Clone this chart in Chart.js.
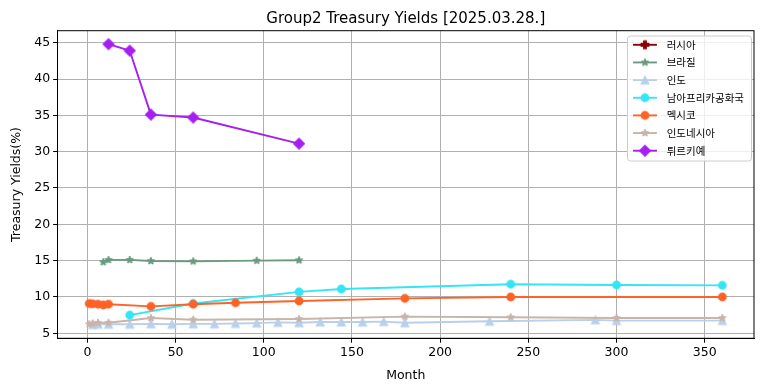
<!DOCTYPE html>
<html><head><meta charset="utf-8">
<script src="https://cdn.jsdelivr.net/npm/chart.js@4"></script>
<style>html,body{margin:0;padding:0;background:#fff;}canvas{display:block}</style>
</head><body>
<canvas id="c" width="764" height="391"></canvas>
<script>
// ---------- data ----------
const chartTitle = 'Group2 Treasury Yields [2025.03.28.]';
const xAxisTitle = 'Month';
const yAxisTitle = 'Treasury Yields(%)';
const seriesNames = ['러시아','브라질','인도','남아프리카공화국','멕시코','인도네시아','튀르키예'];

const russiaMonths = [];
const russiaYields = [];
const brazilMonths = [9,12,24,36,60,96,120];
const brazilYields = [14.8,15.1,15.1,14.95,14.9,15.0,15.05];
const indiaMonths = [3,6,12,24,36,48,60,72,84,96,108,120,132,144,156,168,180,228,288,300,360];
const indiaYields = [6.2,6.25,6.25,6.25,6.3,6.25,6.3,6.3,6.35,6.4,6.5,6.45,6.55,6.55,6.55,6.6,6.45,6.65,6.85,6.75,6.75];
const safricaMonths = [24,60,120,144,240,300,360];
const safricaYields = [7.5,9.1,10.7,11.1,11.75,11.65,11.6];
const mexicoMonths = [1,3,6,9,12,36,60,84,120,180,240,360];
const mexicoYields = [9.1,9.05,9.0,8.9,9.0,8.7,9.0,9.2,9.45,9.8,10.0,10.0];
const indonesiaMonths = [1,3,6,12,36,60,120,180,240,300,360];
const indonesiaYields = [6.25,6.35,6.45,6.45,7.1,6.87,6.96,7.3,7.2,7.1,7.1];
const turkeyMonths = [12,24,36,60,120];
const turkeyYields = [44.8,43.9,35.1,34.7,31.1];

const xTickValues = [0,50,100,150,200,250,300,350];
const yTickValues = [5,10,15,20,25,30,35,40,45];

// ---------- styles ----------
const seriesColors = ['#8b0000','#6a9a80','#b8d0ec','#33e5f5','#ff6226','#c8b4a8','#a61ff0'];
const seriesMarkers = ['P','*','^','o','o','*','D'];
const PX = 90.7/72;
const MS = 6*PX, MEW = 1*PX, LW = 1.5*PX;

function makeMarker(shape, color){
  const size = 20;
  const cv = document.createElement('canvas'); cv.width = size; cv.height = size;
  const g = cv.getContext('2d');
  g.translate(size/2, size/2);
  g.beginPath();
  const s = MS;
  let join = 'miter';
  if (shape === 'o') { g.arc(0,0,s/2,0,Math.PI*2); }
  else if (shape === '^') { g.moveTo(0,-s/2); g.lineTo(-s/2,s/2); g.lineTo(s/2,s/2); g.closePath(); }
  else if (shape === 'D') { const d = s*Math.SQRT1_2; g.moveTo(0,-d); g.lineTo(d,0); g.lineTo(0,d); g.lineTo(-d,0); g.closePath(); }
  else if (shape === '*') {
    const R = s/2, r = R*0.381966; join = 'bevel';
    for (let i=0;i<10;i++){ const a = -Math.PI/2 + i*Math.PI/5; const rr = (i%2)?r:R;
      const px = Math.cos(a)*rr, py = Math.sin(a)*rr; if(i===0) g.moveTo(px,py); else g.lineTo(px,py); }
    g.closePath();
  } else if (shape === 'P') {
    const u = s/6;
    const pts = [[-1,-3],[1,-3],[1,-1],[3,-1],[3,1],[1,1],[1,3],[-1,3],[-1,1],[-3,1],[-3,-1],[-1,-1]];
    pts.forEach((p,i)=>{ if(i===0) g.moveTo(p[0]*u,p[1]*u); else g.lineTo(p[0]*u,p[1]*u); });
    g.closePath();
  }
  g.fillStyle = color; g.fill();
  g.lineWidth = MEW; g.strokeStyle = color; g.lineJoin = join; g.stroke();
  return cv;
}

const seriesMonths = [russiaMonths,brazilMonths,indiaMonths,safricaMonths,mexicoMonths,indonesiaMonths,turkeyMonths];
const seriesYields = [russiaYields,brazilYields,indiaYields,safricaYields,mexicoYields,indonesiaYields,turkeyYields];
const markerImgs = seriesColors.map((c,i)=>makeMarker(seriesMarkers[i], c));

const datasets = seriesNames.map((name,i)=>({
  label: name,
  data: seriesMonths[i].map((m,j)=>({x:m, y:seriesYields[i][j]})),
  borderColor: seriesColors[i],
  backgroundColor: seriesColors[i],
  borderWidth: LW,
  borderJoinStyle: 'round',
  borderCapStyle: 'square',
  pointStyle: markerImgs[i],
  pointRadius: 4, pointHoverRadius: 4,
  fill: false, tension: 0, showLine: true,
  order: seriesNames.length - i
}));

const tickFont = {family:'"DejaVu Sans", sans-serif', size:12.5};

const decorPlugin = {
  id: 'decor',
  afterDatasetsDraw(chart){
    const ctx = chart.ctx, a = chart.chartArea;
    ctx.save();
    ctx.strokeStyle = '#000'; ctx.lineWidth = 1;
    ctx.strokeRect(a.left, a.top, a.right-a.left, a.bottom-a.top);
    ctx.fillStyle = '#000';
    ctx.font = '15px "DejaVu Sans", sans-serif';
    ctx.textAlign = 'center'; ctx.textBaseline = 'alphabetic';
    ctx.fillText(chartTitle, (a.left+a.right)/2, 23);
    const bx = 627.5, by = 36, bw = 124, bh = 125, r = 3;
    ctx.beginPath();
    ctx.moveTo(bx+r,by); ctx.lineTo(bx+bw-r,by); ctx.quadraticCurveTo(bx+bw,by,bx+bw,by+r);
    ctx.lineTo(bx+bw,by+bh-r); ctx.quadraticCurveTo(bx+bw,by+bh,bx+bw-r,by+bh);
    ctx.lineTo(bx+r,by+bh); ctx.quadraticCurveTo(bx,by+bh,bx,by+bh-r);
    ctx.lineTo(bx,by+r); ctx.quadraticCurveTo(bx,by,bx+r,by); ctx.closePath();
    ctx.fillStyle = 'rgba(255,255,255,0.8)'; ctx.fill();
    ctx.strokeStyle = '#cccccc'; ctx.lineWidth = 1; ctx.stroke();
    ctx.font = '10.5px "Noto Sans CJK KR", sans-serif';
    ctx.textAlign = 'left'; ctx.textBaseline = 'middle';
    chart.data.datasets.forEach((ds,i)=>{
      const y = 44.8 + i*17.65;
      ctx.strokeStyle = ds.borderColor; ctx.lineWidth = LW; ctx.lineCap = 'square';
      ctx.beginPath(); ctx.moveTo(634, y); ctx.lineTo(656, y); ctx.stroke();
      const img = ds.pointStyle;
      ctx.drawImage(img, 645 - img.width/2, y - img.height/2);
      ctx.fillStyle = '#000';
      ctx.fillText(ds.label, 666.7, y);
    });
    ctx.restore();
  }
};

new Chart(document.getElementById('c'), {
  type: 'line',
  data: { datasets },
  options: {
    responsive: false, animation: false, devicePixelRatio: 1,
    layout: { padding: { left: 0, right: 10, top: 30.7, bottom: 0 } },
    plugins: { legend: {display:false}, tooltip: {enabled:false}, title: {display:false} },
    scales: {
      x: {
        type: 'linear', min: -16.95, max: 377.95,
        afterBuildTicks: sc => { sc.ticks = xTickValues.map(v=>({value:v})); },
        afterFit: sc => { sc.height = 52.7; },
        ticks: { font: tickFont, color:'#000', padding:3, maxRotation:0, autoSkip:false, callback: v => String(v) },
        grid: { color:'#b0b0b0', lineWidth:1, tickColor:'#000', tickLength:4.4, tickWidth:1, drawTicks:true },
        border: { color:'#000', width:1 },
        title: { display:true, text:xAxisTitle, font: tickFont, color:'#000', padding:{top:0, bottom:8} }
      },
      y: {
        type: 'linear', min: 4.31, max: 46.65,
        afterBuildTicks: sc => { sc.ticks = yTickValues.map(v=>({value:v})); },
        afterFit: sc => { sc.width = 57.5; },
        ticks: { font: tickFont, color:'#000', padding:3, autoSkip:false, callback: v => String(v) },
        grid: { color:'#b0b0b0', lineWidth:1, tickColor:'#000', tickLength:4.4, tickWidth:1, drawTicks:true },
        border: { color:'#000', width:1 },
        title: { display:true, text:yAxisTitle, font: tickFont, color:'#000', padding:{top:9, bottom:0} }
      }
    }
  },
  plugins: [decorPlugin]
});
</script>
</body></html>
